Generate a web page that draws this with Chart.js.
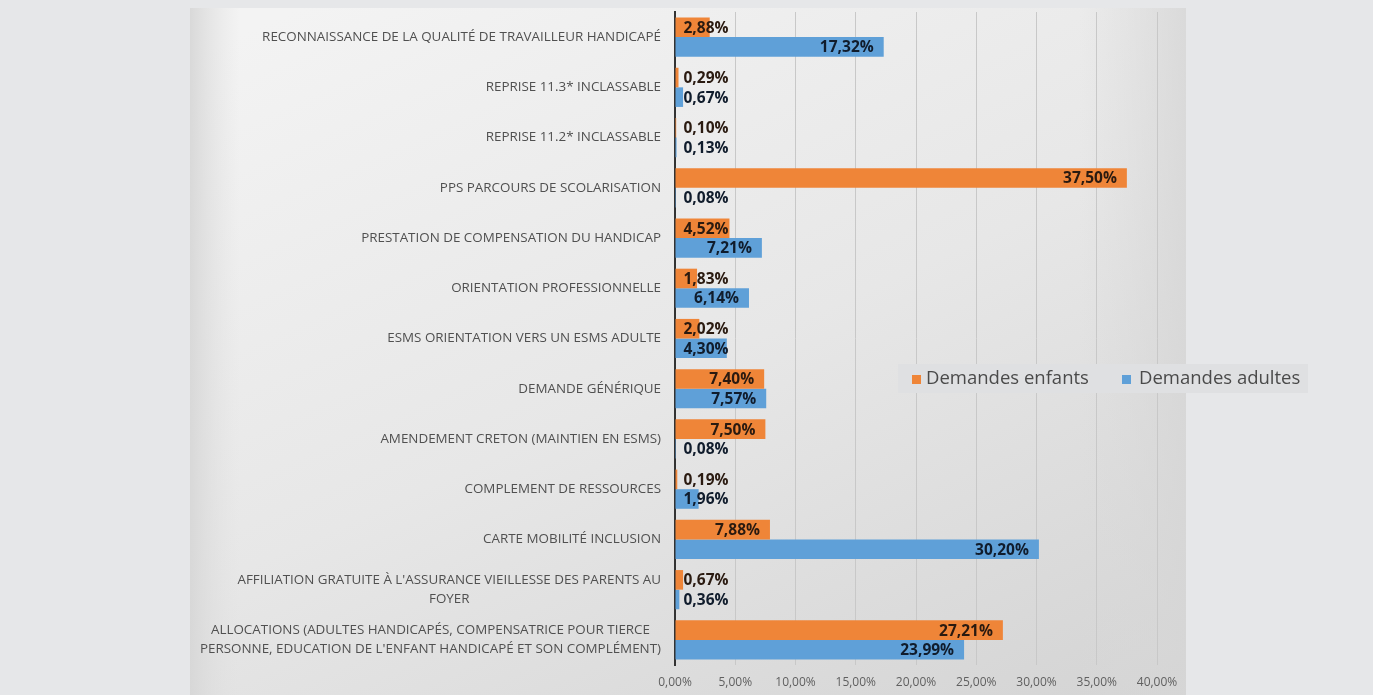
<!DOCTYPE html>
<html>
<head>
<meta charset="utf-8">
<script src="https://cdn.jsdelivr.net/npm/chart.js@4"></script>
<style>
  html, body { margin: 0; padding: 0; background: #e6e7e9; }
  #wrap { position: relative; width: 1373px; height: 695px; }
</style>
</head>
<body>
<div id="wrap"><canvas id="chart" width="1373" height="695"></canvas></div>
<script>
// categories, top to bottom
var categories = [
    'RECONNAISSANCE DE LA QUALITÉ DE TRAVAILLEUR HANDICAPÉ',
    'REPRISE 11.3* INCLASSABLE',
    'REPRISE 11.2* INCLASSABLE',
    'PPS PARCOURS DE SCOLARISATION',
    'PRESTATION DE COMPENSATION DU HANDICAP',
    'ORIENTATION PROFESSIONNELLE',
    'ESMS ORIENTATION VERS UN ESMS ADULTE',
    'DEMANDE GÉNÉRIQUE',
    'AMENDEMENT CRETON (MAINTIEN EN ESMS)',
    'COMPLEMENT DE RESSOURCES',
    'CARTE MOBILITÉ INCLUSION',
    ['AFFILIATION GRATUITE À L\'ASSURANCE VIEILLESSE DES PARENTS AU', 'FOYER'],
    ['ALLOCATIONS (ADULTES HANDICAPÉS, COMPENSATRICE POUR TIERCE', 'PERSONNE, EDUCATION DE L\'ENFANT HANDICAPÉ ET SON COMPLÉMENT)']
];
var enfants = [2.88, 0.29, 0.10, 37.50, 4.52, 1.83, 2.02, 7.40, 7.50, 0.19, 7.88, 0.67, 27.21];
var adultes = [17.32, 0.67, 0.13, 0.08, 7.21, 6.14, 4.30, 7.57, 0.08, 1.96, 30.20, 0.36, 23.99];
var xTicks = [0, 5, 10, 15, 20, 25, 30, 35, 40];

function pct(v) { return v.toFixed(2).replace('.', ',') + '%'; }

// panel background behind the plot
var panelBg = {
    id: 'panelBg',
    beforeDraw: function(chart) {
        var ctx = chart.ctx;
        ctx.save();
        var g = ctx.createLinearGradient(300, 8, 700, 900);
        g.addColorStop(0, '#f3f3f3');
        g.addColorStop(0.5, '#e7e7e7');
        g.addColorStop(1, '#d4d4d4');
        ctx.fillStyle = g;
        ctx.fillRect(190, 8, 996, 687);
        var g2 = ctx.createLinearGradient(1080, 0, 1186, 0);
        g2.addColorStop(0, 'rgba(218,218,218,0)');
        g2.addColorStop(1, 'rgba(214,214,214,0.8)');
        ctx.fillStyle = g2;
        ctx.fillRect(1080, 8, 106, 687);
        var g3 = ctx.createLinearGradient(190, 0, 240, 0);
        g3.addColorStop(0, 'rgba(214,214,214,0.9)');
        g3.addColorStop(1, 'rgba(225,225,225,0)');
        ctx.fillStyle = g3;
        ctx.fillRect(190, 8, 50, 687);
        ctx.restore();
    }
};

// category labels: block right-aligned to the axis, lines centred within it
var catLabels = {
    id: 'catLabels',
    afterDraw: function(chart) {
        var ctx = chart.ctx;
        var yScale = chart.scales.y;
        var right = yScale.right - 14;
        var lh = 19.5;
        ctx.save();
        ctx.font = '13.4px "Open Sans"';
        ctx.fillStyle = '#505050';
        ctx.textBaseline = 'middle';
        ctx.textAlign = 'center';
        chart.data.labels.forEach(function(lab, i) {
            var lines = Array.isArray(lab) ? lab : [lab];
            var maxW = 0;
            lines.forEach(function(l) { maxW = Math.max(maxW, ctx.measureText(l).width); });
            var cx = right - maxW / 2;
            var cy = yScale.getPixelForTick(i);
            var y0 = cy - (lines.length - 1) * lh / 2;
            lines.forEach(function(l, k) { ctx.fillText(l, cx, y0 + k * lh); });
        });
        ctx.restore();
    }
};

// value labels, inside end like the spreadsheet
var valueLabels = {
    id: 'valueLabels',
    afterDatasetsDraw: function(chart) {
        var ctx = chart.ctx;
        ctx.save();
        ctx.font = 'bold 15.5px "Open Sans"';
        ctx.textBaseline = 'middle';
        ctx.textAlign = 'left';
        chart.data.datasets.forEach(function(ds, i) {
            var meta = chart.getDatasetMeta(i);
            meta.data.forEach(function(bar, j) {
                var txt = pct(ds.data[j]);
                var w = ctx.measureText(txt).width;
                var x = bar.x - 10 - w;
                if (x < bar.base + 8) x = bar.base + 8;
                ctx.fillStyle = i === 0 ? '#2a1a10' : '#101c2c';
                ctx.fillText(txt, x, bar.y + 1);
            });
        });
        ctx.restore();
    }
};

// floating legend
var floatLegend = {
    id: 'floatLegend',
    afterDraw: function(chart) {
        var ctx = chart.ctx;
        ctx.save();
        ctx.fillStyle = '#dfe0e2';
        ctx.fillRect(898, 364, 410, 29);
        ctx.font = '18.5px "Open Sans"';
        ctx.textBaseline = 'middle';
        var items = [[912, 926], [1122, 1139]];
        chart.data.datasets.forEach(function(ds, i) {
            ctx.fillStyle = ds.backgroundColor;
            ctx.fillRect(items[i][0], 375, 9, 9);
            ctx.fillStyle = '#4a4a4a';
            ctx.fillText(ds.label, items[i][1], 379);
        });
        ctx.restore();
    }
};

var ctx = document.getElementById('chart').getContext('2d');
var chart = new Chart(ctx, {
    type: 'bar',
    data: {
        labels: categories,
        datasets: [{
            label: 'Demandes enfants',
            data: enfants,
            backgroundColor: '#ef8538',
            categoryPercentage: 0.78,
            barPercentage: 1
        }, {
            label: 'Demandes adultes',
            data: adultes,
            backgroundColor: '#5fa0d8',
            categoryPercentage: 0.78,
            barPercentage: 1
        }]
    },
    options: {
        indexAxis: 'y',
        responsive: false,
        animation: false,
        layout: { padding: { left: 190, right: 216, top: 12, bottom: 0 } },
        plugins: {
            legend: { display: false },
            tooltip: { enabled: false }
        },
        scales: {
            x: {
                min: 0,
                max: 40,
                afterBuildTicks: function(scale) {
                    scale.ticks = xTicks.map(function(v) { return { value: v }; });
                },
                afterFit: function(scale) {
                    scale.height = 30;
                    scale.paddingLeft = 0;
                    scale.paddingRight = 0;
                },
                grid: { color: '#c8c8c8', lineWidth: 1, drawTicks: false },
                border: { display: false },
                ticks: {
                    callback: function(v) { return pct(v); },
                    color: '#606060',
                    font: { family: '"Open Sans"', size: 12 },
                    padding: 10,
                    maxRotation: 0
                }
            },
            y: {
                afterFit: function(scale) {
                    scale.width = 485;
                    scale.paddingTop = 0;
                    scale.paddingBottom = 0;
                },
                grid: { display: false, drawTicks: false },
                border: { display: true, color: '#333333', width: 2 },
                ticks: { display: false }
            }
        }
    },
    plugins: [panelBg, catLabels, valueLabels, floatLegend]
});
</script>
</body>
</html>
